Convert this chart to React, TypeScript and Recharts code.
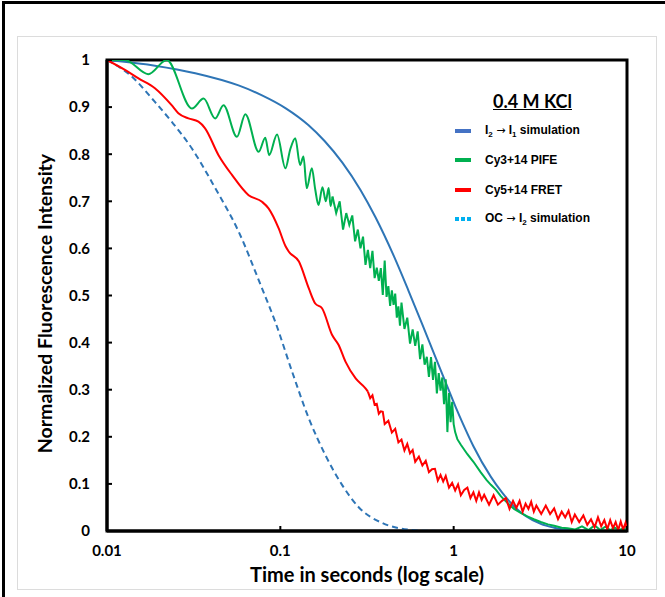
import React from 'react';
import { LineChart, Line, XAxis, YAxis, ReferenceArea } from 'recharts';

// axis ticks
const xTicks = [0.01, 0.1, 1, 10];
const yTicks = [0, 0.1, 0.2, 0.3, 0.4, 0.5, 0.6, 0.7, 0.8, 0.9, 1];

// I2 -> I1 simulation
const simTime = [0.01, 0.0189, 0.0323, 0.0574, 0.0784, 0.107, 0.145, 0.18, 0.228, 0.29, 0.354, 0.45, 0.549, 0.66, 0.787, 0.9, 1.03, 1.13, 1.3, 1.64, 1.9, 2.22, 2.6, 3.18, 3.8, 4.56, 5.5, 7, 10];
const simValue = [1, 0.988, 0.972, 0.946, 0.925, 0.898, 0.862, 0.828, 0.782, 0.724, 0.666, 0.585, 0.51, 0.438, 0.368, 0.315, 0.262, 0.228, 0.18, 0.115, 0.082, 0.053, 0.032, 0.015, 0.007, 0.002, 0.0005, 0, 0];

// OC -> I2 simulation
const ocTime = [0.01, 0.0136, 0.0189, 0.0236, 0.0309, 0.0421, 0.0574, 0.0784, 0.0935, 0.117, 0.146, 0.182, 0.227, 0.284, 0.387, 0.55, 0.7, 1, 10];
const ocValue = [1, 0.968, 0.911, 0.869, 0.812, 0.728, 0.636, 0.515, 0.444, 0.338, 0.239, 0.161, 0.098, 0.05, 0.017, 0.003, 0.0005, 0, 0];

// Cy3+14 PIFE, early wavy part
const pifeEarlyTime = [0.01, 0.0127, 0.0173, 0.0221, 0.0309, 0.0361, 0.0421, 0.047, 0.0562, 0.0628, 0.075, 0.0819, 0.0862, 0.0957, 0.107, 0.114, 0.122, 0.13, 0.136, 0.142, 0.152, 0.159, 0.166, 0.175, 0.183, 0.19, 0.195, 0.2];
const pifeEarlyValue = [1, 1, 0.97, 1, 0.897, 0.918, 0.876, 0.904, 0.837, 0.885, 0.805, 0.835, 0.798, 0.842, 0.77, 0.81, 0.834, 0.777, 0.795, 0.728, 0.77, 0.725, 0.692, 0.73, 0.7, 0.728, 0.69, 0.71];

// Cy3+14 PIFE, noisy part and tail
const pifeLateTime = [0.2, 0.21, 0.22, 0.23, 0.24, 0.25, 0.26, 0.27, 0.28, 0.29, 0.3, 0.31, 0.32, 0.33, 0.34, 0.35, 0.36, 0.37, 0.38, 0.39, 0.4, 0.41, 0.42, 0.43, 0.44, 0.45, 0.46, 0.47, 0.48, 0.49, 0.5, 0.52, 0.54, 0.56, 0.58, 0.6, 0.62, 0.64, 0.66, 0.68, 0.7, 0.72, 0.74, 0.76, 0.78, 0.8, 0.82, 0.84, 0.86, 0.88, 0.9, 0.92, 0.94, 0.96, 0.98, 1, 1.02, 1.05, 1.1, 1.2, 1.3, 1.43, 1.55, 1.64, 1.75, 1.87, 2, 2.12, 2.23, 2.45, 2.66, 2.9, 3.18, 3.5, 3.8, 4.2, 4.54, 5, 5.5, 6, 6.5, 7, 7.5, 8, 8.5, 9, 9.5, 10];
const pifeLateValue = [0.71, 0.675, 0.7, 0.64, 0.675, 0.65, 0.67, 0.615, 0.64, 0.6, 0.625, 0.565, 0.597, 0.558, 0.595, 0.537, 0.559, 0.531, 0.558, 0.501, 0.574, 0.497, 0.52, 0.478, 0.511, 0.48, 0.504, 0.453, 0.477, 0.436, 0.485, 0.429, 0.453, 0.398, 0.428, 0.393, 0.424, 0.365, 0.396, 0.353, 0.37, 0.327, 0.369, 0.321, 0.359, 0.292, 0.335, 0.298, 0.326, 0.269, 0.322, 0.21, 0.293, 0.231, 0.274, 0.227, 0.21, 0.195, 0.183, 0.163, 0.147, 0.125, 0.108, 0.098, 0.088, 0.074, 0.063, 0.054, 0.047, 0.038, 0.031, 0.025, 0.019, 0.014, 0.011, 0.007, 0.006, 0.003, 0.01, 0.002, 0.012, 0.002, 0.009, 0.002, 0.007, 0.002, 0.005, 0.002];

// Cy5+14 FRET, early smooth part
const fretEarlyTime = [0.01, 0.0127, 0.0152, 0.0189, 0.0236, 0.0258, 0.0295, 0.0337, 0.0368, 0.044, 0.0526, 0.0656, 0.0784, 0.0855, 0.0977, 0.107, 0.112, 0.128, 0.146, 0.159, 0.174, 0.199, 0.217, 0.238, 0.272, 0.31, 0.32];
const fretEarlyValue = [1, 0.979, 0.961, 0.94, 0.904, 0.887, 0.876, 0.869, 0.855, 0.798, 0.756, 0.713, 0.699, 0.685, 0.643, 0.605, 0.593, 0.572, 0.515, 0.483, 0.473, 0.416, 0.395, 0.359, 0.324, 0.303, 0.296];

// Cy5+14 FRET, noisy part
const fretLateTime = [0.32, 0.33, 0.34, 0.35, 0.36, 0.37, 0.38, 0.39, 0.4, 0.42, 0.44, 0.46, 0.48, 0.5, 0.52, 0.54, 0.56, 0.58, 0.6, 0.63, 0.66, 0.69, 0.72, 0.75, 0.78, 0.81, 0.84, 0.87, 0.9, 0.94, 0.98, 1.02, 1.06, 1.1, 1.15, 1.2, 1.25, 1.3, 1.35, 1.4, 1.45, 1.5, 1.6, 1.7, 1.8, 1.9, 2, 2.1, 2.2, 2.3, 2.4, 2.5, 2.6, 2.7, 2.8, 2.9, 3, 3.2, 3.4, 3.6, 3.8, 4, 4.2, 4.4, 4.6, 4.8, 5, 5.3, 5.6, 5.9, 6.2, 6.5, 6.8, 7.1, 7.4, 7.7, 8, 8.3, 8.6, 8.9, 9.2, 9.5, 9.8, 10];
const fretLateValue = [0.296, 0.282, 0.288, 0.268, 0.27, 0.249, 0.254, 0.253, 0.227, 0.234, 0.209, 0.217, 0.188, 0.194, 0.171, 0.185, 0.165, 0.172, 0.147, 0.158, 0.139, 0.149, 0.125, 0.131, 0.132, 0.107, 0.119, 0.105, 0.117, 0.092, 0.102, 0.086, 0.099, 0.076, 0.087, 0.092, 0.07, 0.082, 0.064, 0.082, 0.066, 0.077, 0.056, 0.076, 0.056, 0.064, 0.07, 0.047, 0.064, 0.049, 0.064, 0.041, 0.058, 0.047, 0.062, 0.041, 0.054, 0.036, 0.054, 0.036, 0.048, 0.025, 0.041, 0.029, 0.043, 0.019, 0.035, 0.019, 0.033, 0.013, 0.025, 0.008, 0.029, 0.01, 0.023, 0.004, 0.023, 0.006, 0.019, 0.002, 0.02, 0.003, 0.017, 0.004];

const toPoints = (t: number[], v: number[]) => t.map((x, i) => ({ t: x, v: v[i] }));

const BLUE = '#2E75B6';
const GREEN = '#00B050';
const RED = '#FF0000';

const legendItems = [
  { key: 'sim', swatch: '#4472C4', dashed: false },
  { key: 'pife', swatch: GREEN, dashed: false, label: 'Cy3+14  PIFE' },
  { key: 'fret', swatch: RED, dashed: false, label: 'Cy5+14  FRET' },
  { key: 'oc', swatch: '#00B0F0', dashed: true },
];

function LegendLabel({ k, label }: { k: string; label?: string }) {
  const sub = { fontSize: 8, verticalAlign: 'sub' as const };
  const arrow = <span style={{ fontFamily: '"DejaVu Sans"', fontWeight: 400, fontSize: 11 }}>→</span>;
  if (k === 'sim') return <span>I<span style={sub}>2</span> {arrow} I<span style={sub}>1</span> simulation</span>;
  if (k === 'oc') return <span>OC {arrow} I<span style={sub}>2</span> simulation</span>;
  return <span>{label}</span>;
}

export default function App() {
  const tickStyle = { fill: '#000', fontFamily: 'Lato', fontWeight: 700, fontSize: 15 };
  const titleStyle = { fill: '#000', fontFamily: 'Lato', fontWeight: 700, fontSize: 20 };
  return (
    <div style={{ position: 'absolute', left: 0, top: 0, width: 665, height: 597, overflow: 'hidden', background: '#fff' }}>
      <div style={{ position: 'absolute', left: 2, top: 1, width: 700, height: 700, borderTop: '3px solid #000', borderLeft: '3px solid #000' }} />
      <div style={{ position: 'absolute', left: 17, top: 36, width: 640, height: 554, border: '1px solid #dcdcdc', boxSizing: 'border-box' }} />
      <div style={{ position: 'absolute', left: 0, top: 0 }}>
        <LineChart width={665} height={597} margin={{ top: 60, right: 38, bottom: 11, left: 47 }}>
          <XAxis
            type="number"
            dataKey="t"
            scale="log"
            domain={[0.01, 10]}
            ticks={xTicks}
            interval={0}
            allowDataOverflow
            height={55}
            tickSize={-5}
            tickMargin={19}
            axisLine={{ stroke: '#000', strokeWidth: 3 }}
            tickLine={{ stroke: '#000', strokeWidth: 2 }}
            tick={tickStyle}
            label={{ value: 'Time in seconds (log scale)', position: 'insideBottom', offset: 4, style: titleStyle }}
          />
          <YAxis
            type="number"
            dataKey="v"
            domain={[0, 1]}
            ticks={yTicks}
            interval={0}
            allowDataOverflow
            width={60}
            tickSize={-5}
            tickMargin={22}
            axisLine={{ stroke: '#000', strokeWidth: 3 }}
            tickLine={{ stroke: '#000', strokeWidth: 2 }}
            tick={tickStyle}
            label={{ value: 'Normalized Fluorescence Intensity', angle: -90, position: 'insideLeft', dx: -7, dy: 8, style: { ...titleStyle, fontSize: 19.5, textAnchor: 'middle' } }}
          />
          <ReferenceArea x1={0.01} x2={10} y1={0} y2={1} fill="none" stroke="#000" strokeWidth={3} />
          <Line data={toPoints(simTime, simValue)} dataKey="v" type="monotone" stroke={BLUE} strokeWidth={2} dot={false} isAnimationActive={false} />
          <Line data={toPoints(ocTime, ocValue)} dataKey="v" type="monotone" stroke={BLUE} strokeWidth={2} strokeDasharray="6 4" dot={false} isAnimationActive={false} />
          <Line data={toPoints(pifeEarlyTime, pifeEarlyValue)} dataKey="v" type="monotone" stroke={GREEN} strokeWidth={2} dot={false} isAnimationActive={false} />
          <Line data={toPoints(pifeLateTime, pifeLateValue)} dataKey="v" type="linear" stroke={GREEN} strokeWidth={2} dot={false} isAnimationActive={false} />
          <Line data={toPoints(fretEarlyTime, fretEarlyValue)} dataKey="v" type="monotone" stroke={RED} strokeWidth={2} dot={false} isAnimationActive={false} />
          <Line data={toPoints(fretLateTime, fretLateValue)} dataKey="v" type="linear" stroke={RED} strokeWidth={2} dot={false} isAnimationActive={false} />
        </LineChart>
      </div>
      <div style={{ position: 'absolute', left: 455, top: 88, width: 170, fontFamily: '"Liberation Sans", Arial, sans-serif', fontWeight: 700, fontSize: 12, color: '#000' }}>
        <div style={{ fontFamily: 'Lato', fontSize: 18, textDecoration: 'underline', marginLeft: 38, height: 28, lineHeight: '26px' }}>0.4 M KCl</div>
        {legendItems.map((item) => (
          <div key={item.key} style={{ display: 'flex', alignItems: 'center', height: 29.5 }}>
            <div
              style={{
                width: 16,
                height: 4,
                marginRight: 14,
                background: item.dashed
                  ? `repeating-linear-gradient(90deg, ${item.swatch} 0 4px, transparent 4px 6px)`
                  : item.swatch,
              }}
            />
            <LegendLabel k={item.key} label={item.label} />
          </div>
        ))}
      </div>
    </div>
  );
}
